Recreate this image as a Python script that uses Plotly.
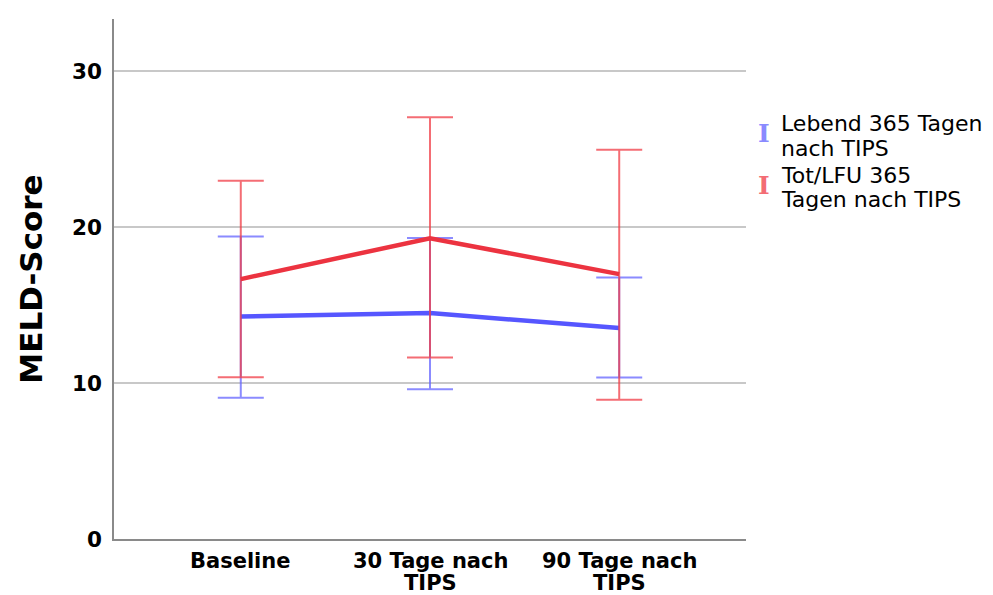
import plotly.graph_objects as go

categories = ["Baseline", "30 Tage nach<br>TIPS", "90 Tage nach<br>TIPS"]
series_names = ["Lebend 365 Tagen<br>nach TIPS", "Tot/LFU 365<br>Tagen nach TIPS"]

lebend_mean = [14.27, 14.49, 13.53]
lebend_upper = [19.40, 19.31, 16.77]
lebend_lower = [9.06, 9.61, 10.36]

tot_mean = [16.67, 19.29, 16.99]
tot_upper = [22.97, 27.05, 24.96]
tot_lower = [10.38, 11.64, 8.93]

y_ticks = [0, 10, 20, 30]

BLUE = "#5656ff"
BLUE_ERR = "rgba(100,100,255,0.75)"
RED = "#ec3340"
RED_ERR = "rgba(240,60,70,0.75)"

FONT = "DejaVu Sans"

fig = go.Figure()

def add_series(mean, upper, lower, line_color, err_color):
    fig.add_trace(go.Scatter(
        x=[0, 1, 2], y=mean, mode="lines",
        line=dict(color=line_color, width=4.5),
        error_y=dict(type="data", symmetric=False,
                     array=[u - m for u, m in zip(upper, mean)],
                     arrayminus=[m - l for m, l in zip(mean, lower)],
                     color=err_color, thickness=2, width=23),
        showlegend=False, hoverinfo="skip"))

add_series(lebend_mean, lebend_upper, lebend_lower, BLUE, BLUE_ERR)
add_series(tot_mean, tot_upper, tot_lower, RED, RED_ERR)

L, R, T, B = 114, 247, 19, 56
PW, PH = 993 - L - R, 595 - T - B

fig.update_layout(
    width=993, height=595,
    margin=dict(l=L, r=R, t=T, b=B, autoexpand=False),
    paper_bgcolor="white", plot_bgcolor="white",
    font=dict(family=FONT, color="black"),
    xaxis=dict(range=[-0.67, 2.67], tickmode="array", tickvals=[0, 1, 2],
               showticklabels=False, showgrid=False, zeroline=False,
               showline=True, linecolor="#8a8a8a", linewidth=1.5,
               ticks="", automargin=False),
    yaxis=dict(range=[0, 33.35], tickmode="array", tickvals=y_ticks,
               ticktext=[str(v) for v in y_ticks],
               showgrid=True, gridcolor="#c8c8c8", gridwidth=1.5,
               zeroline=False, showline=True, linecolor="#8a8a8a",
               linewidth=1.5, ticks="", ticklabelstandoff=6, automargin=False,
               tickfont=dict(family=FONT, size=21.5, color="black", weight="bold"),
               title=dict(text="MELD-Score", standoff=20,
                          font=dict(family=FONT, size=31, color="black",
                                    weight="bold"))),
)

# category labels placed at the axis category positions, with tight line spacing
for i, cat in enumerate(categories):
    for j, ln in enumerate(cat.split("<br>")):
        fig.add_annotation(xref="x", yref="paper", x=i,
                           y=1 - (561 + 22 * j - T) / PH,
                           xanchor="center", yanchor="middle", showarrow=False,
                           text=ln, font=dict(family=FONT, size=21, color="black",
                                              weight="bold"))

# legend built from annotations
legend_items = [
    (series_names[0], BLUE_ERR, 124, 133),
    (series_names[1], RED_ERR, 175, 185),
]
for name, col, ytext, yglyph in legend_items:
    lines = name.split("<br>")
    for i, ln in enumerate(lines):
        fig.add_annotation(xref="paper", yref="paper",
                           x=(779 - L) / PW,
                           y=1 - (ytext + 24 * i - T) / PH,
                           xanchor="left", yanchor="middle", showarrow=False,
                           text=ln, font=dict(family=FONT, size=22, color="black"))
    fig.add_annotation(xref="paper", yref="paper",
                       x=(764 - L) / PW,
                       y=1 - (yglyph - T) / PH,
                       xanchor="center", yanchor="middle", showarrow=False,
                       text="I", font=dict(family="DejaVu Serif", size=25, color=col,
                                           weight="bold"))

fig.write_html("out.html")
